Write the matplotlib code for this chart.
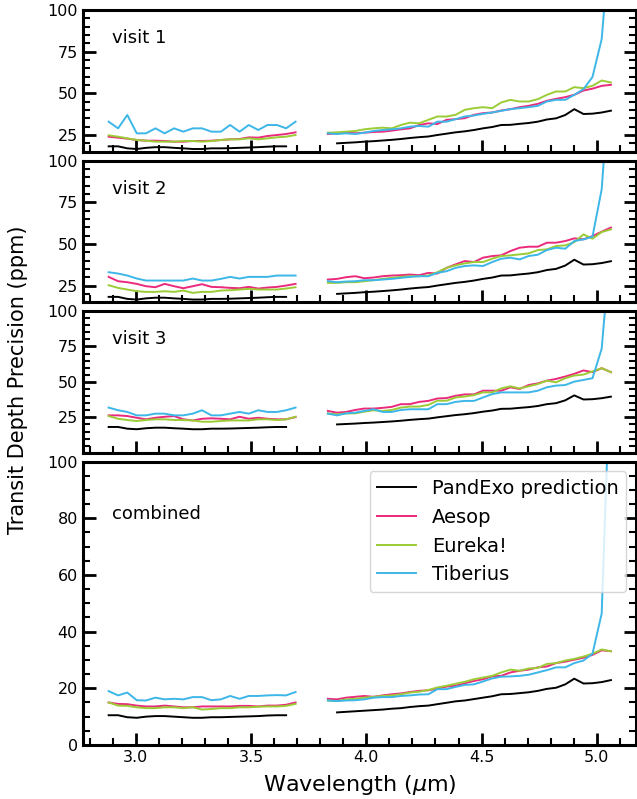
import matplotlib
matplotlib.use("Agg")
import matplotlib.pyplot as plt
from matplotlib.ticker import MultipleLocator

# wavelength grids (micron)
wl_nrs1 = [2.882, 2.923, 2.963, 3.004, 3.044, 3.085, 3.125, 3.166, 3.206, 3.247, 3.287,
           3.328, 3.369, 3.409, 3.450, 3.490, 3.531, 3.571, 3.612, 3.652, 3.693]
wl_nrs2 = [3.833, 3.873, 3.912, 3.952, 3.991, 4.031, 4.071, 4.110, 4.150, 4.189, 4.229,
           4.269, 4.308, 4.348, 4.387, 4.427, 4.467, 4.506, 4.546, 4.585, 4.625, 4.665,
           4.704, 4.744, 4.783, 4.823, 4.863, 4.902, 4.942, 4.981, 5.021, 5.061]
wl_pe_nrs1 = wl_nrs1[:20]
wl_pe_nrs2 = wl_nrs2[1:]

# PandExo prediction (single visit and combined)
pandexo_visit_nrs1 = [18.2, 18.2, 17.0, 16.6, 17.3, 17.7, 17.7, 17.3, 17.0, 16.6, 16.6, 17.0,
                      17.0, 17.1, 17.3, 17.5, 17.7, 18.0, 18.2, 18.2]
pandexo_visit_nrs2 = [20.0, 20.3, 20.6, 21.0, 21.3, 21.7, 22.1, 22.6, 23.2, 23.7, 24.1, 25.0,
                      25.8, 26.6, 27.2, 28.0, 29.0, 29.8, 31.0, 31.1, 31.7, 32.2, 33.0, 34.3,
                      35.0, 37.0, 40.5, 37.6, 37.8, 38.5, 39.6]
pandexo_comb_nrs1 = [10.5, 10.5, 9.8, 9.6, 10.0, 10.2, 10.2, 10.0, 9.8, 9.6, 9.6, 9.8, 9.8,
                     9.9, 10.0, 10.1, 10.2, 10.4, 10.5, 10.5]
pandexo_comb_nrs2 = [11.5, 11.7, 11.9, 12.1, 12.3, 12.5, 12.8, 13.0, 13.4, 13.7, 13.9, 14.4,
                     14.9, 15.4, 15.7, 16.2, 16.7, 17.2, 17.9, 18.0, 18.3, 18.6, 19.1, 19.8,
                     20.2, 21.4, 23.4, 21.7, 21.8, 22.2, 22.9]

# visit 1
aesop_v1_nrs1 = [24.0, 23.4, 22.8, 22.0, 21.6, 21.6, 21.4, 21.0, 21.0, 21.4, 21.4, 21.6, 22.0,
                 22.4, 22.6, 23.6, 23.4, 24.4, 25.0, 25.6, 26.6]
eureka_v1_nrs1 = [24.8, 24.0, 23.0, 22.0, 21.6, 21.0, 21.0, 21.0, 21.4, 21.4, 21.0, 21.4, 22.0,
                  22.4, 22.4, 23.0, 22.4, 23.0, 23.6, 24.0, 25.0]
tiberius_v1_nrs1 = [33.0, 29.0, 37.0, 26.0, 26.0, 29.0, 26.0, 29.0, 27.0, 29.0, 29.0, 27.0,
                    27.0, 31.0, 27.0, 31.0, 28.0, 31.0, 31.0, 29.0, 33.0]
aesop_v1_nrs2 = [25.6, 26.0, 26.6, 26.0, 26.4, 26.8, 27.0, 27.6, 28.4, 29.0, 31.0, 32.0, 31.6,
                 34.1, 34.5, 35.1, 37.1, 38.1, 38.5, 39.7, 40.5, 41.7, 42.5, 43.7, 45.5, 46.7,
                 47.7, 49.1, 51.7, 52.8, 54.5, 55.1]
eureka_v1_nrs2 = [26.4, 26.6, 27.0, 27.4, 28.4, 29.0, 29.4, 29.0, 31.0, 32.4, 32.0, 34.1, 36.1,
                  36.1, 37.1, 40.1, 41.1, 41.7, 41.1, 44.5, 46.1, 45.1, 45.1, 46.5, 49.1, 51.1,
                  51.1, 53.7, 53.1, 54.5, 57.7, 56.5]
tiberius_v1_nrs2 = [26.0, 25.6, 26.0, 25.6, 26.4, 27.4, 28.0, 28.4, 29.0, 30.0, 30.4, 30.0,
                    33.0, 33.0, 34.5, 36.1, 36.7, 37.7, 38.5, 39.5, 40.5, 41.1, 41.7, 42.5,
                    45.1, 46.1, 46.1, 49.1, 52.5, 59.8, 82.6, 150.0]

# visit 2
aesop_v2_nrs1 = [30.2, 27.6, 27.0, 26.0, 24.6, 24.0, 26.0, 24.6, 23.4, 24.6, 25.8, 24.2, 24.0,
                 23.6, 23.4, 24.2, 23.2, 23.8, 24.2, 25.0, 26.0]
eureka_v2_nrs1 = [25.2, 23.6, 22.6, 21.6, 21.2, 21.2, 21.6, 21.2, 22.0, 20.6, 21.2, 21.2, 22.0,
                  22.2, 22.6, 23.0, 22.6, 22.6, 22.6, 23.2, 24.0]
tiberius_v2_nrs1 = [33.0, 32.2, 31.0, 29.2, 28.0, 28.0, 28.0, 28.0, 28.0, 29.2, 28.0, 28.0,
                    29.0, 30.2, 29.2, 30.2, 30.2, 30.2, 31.0, 31.0, 31.0]
aesop_v2_nrs2 = [28.6, 29.0, 30.0, 30.6, 29.4, 29.8, 30.6, 31.0, 31.2, 31.6, 31.2, 32.6, 32.2,
                 35.6, 37.7, 39.7, 39.1, 41.7, 42.7, 43.1, 45.7, 47.7, 48.3, 48.3, 50.7, 50.7,
                 51.7, 53.3, 52.7, 54.7, 57.3, 59.8]
eureka_v2_nrs2 = [26.6, 26.6, 27.0, 27.0, 27.6, 28.2, 29.0, 29.6, 30.2, 30.6, 30.6, 31.0, 33.0,
                  35.6, 37.1, 38.3, 39.1, 39.1, 41.1, 42.7, 43.1, 43.7, 44.3, 46.3, 46.7, 48.7,
                  49.1, 51.0, 55.7, 53.1, 57.1, 58.7]
tiberius_v2_nrs2 = [27.6, 27.0, 27.4, 27.6, 28.2, 28.2, 28.6, 29.0, 29.6, 30.2, 30.6, 30.6,
                    32.6, 33.6, 35.6, 36.7, 37.1, 36.7, 39.1, 41.1, 41.7, 40.7, 42.7, 43.5,
                    46.3, 47.7, 47.1, 51.7, 52.7, 54.3, 82.8, 160.0]

# visit 3
aesop_v3_nrs1 = [26.4, 26.4, 25.9, 24.7, 23.6, 24.7, 25.4, 25.9, 23.6, 22.8, 24.0, 24.3, 24.0,
                 23.6, 25.4, 24.0, 24.7, 24.0, 23.6, 23.6, 25.2]
eureka_v3_nrs1 = [25.9, 24.0, 23.1, 22.4, 23.1, 23.6, 23.6, 23.1, 23.1, 22.8, 21.9, 21.9, 22.4,
                  22.8, 22.8, 22.8, 23.6, 23.6, 23.1, 23.6, 25.4]
tiberius_v3_nrs1 = [31.9, 30.0, 28.8, 26.4, 26.4, 27.6, 27.6, 26.4, 26.4, 27.6, 30.0, 26.4,
                    26.4, 27.6, 28.8, 27.6, 30.0, 28.8, 28.8, 30.0, 31.9]
aesop_v3_nrs2 = [29.5, 28.3, 28.8, 30.2, 31.2, 31.2, 31.7, 32.4, 34.3, 34.3, 35.9, 36.6, 38.3,
                 38.6, 40.2, 41.2, 41.2, 43.8, 43.8, 43.8, 46.2, 45.0, 47.8, 49.0, 50.9, 52.1,
                 53.8, 55.7, 58.1, 56.9, 59.7, 56.9]
eureka_v3_nrs2 = [27.8, 27.1, 27.8, 27.8, 29.0, 30.0, 29.5, 30.2, 31.9, 32.6, 32.6, 33.8, 36.7,
                  36.7, 39.0, 39.7, 40.7, 42.6, 42.6, 45.4, 46.9, 45.4, 46.9, 48.5, 50.9, 49.7,
                  52.6, 54.5, 55.2, 57.4, 59.7, 56.9]
tiberius_v3_nrs2 = [27.6, 26.4, 27.8, 28.3, 29.5, 30.7, 28.8, 28.8, 30.2, 30.7, 30.7, 30.7,
                    34.3, 34.3, 35.9, 36.6, 36.6, 39.0, 41.4, 42.6, 42.6, 42.6, 42.6, 43.8,
                    46.2, 47.4, 47.8, 50.2, 51.4, 52.6, 73.5, 150.0]

# combined
aesop_comb_nrs1 = [15.0, 14.5, 14.4, 13.9, 13.6, 13.6, 13.9, 13.6, 13.3, 13.3, 13.6, 13.6, 13.6,
                   13.6, 13.8, 13.8, 13.6, 13.9, 13.9, 14.2, 15.0]
eureka_comb_nrs1 = [15.0, 13.9, 13.8, 13.3, 13.0, 13.0, 13.3, 13.3, 13.0, 13.3, 12.5, 12.7, 13.0,
                    13.0, 13.3, 13.3, 13.5, 13.6, 13.6, 13.8, 14.5]
tiberius_comb_nrs1 = [19.0, 17.5, 18.5, 15.8, 15.7, 16.7, 16.1, 16.3, 16.1, 16.9, 16.9, 15.8,
                      16.1, 17.3, 16.3, 17.3, 17.3, 17.5, 17.6, 17.5, 18.7]
aesop_comb_nrs2 = [16.3, 16.1, 16.7, 17.0, 17.3, 17.0, 17.5, 17.9, 18.2, 18.7, 19.1, 19.3, 19.9,
                   20.6, 20.9, 21.8, 22.6, 23.2, 24.2, 24.4, 25.6, 26.2, 26.6, 27.4, 27.7, 28.9,
                   29.4, 30.1, 30.8, 31.8, 33.4, 33.1]
eureka_comb_nrs2 = [15.7, 15.5, 16.1, 16.3, 16.7, 17.0, 17.3, 17.5, 17.9, 18.5, 18.8, 19.4, 20.3,
                    20.9, 21.6, 22.3, 23.2, 23.8, 24.4, 25.6, 26.6, 26.2, 27.0, 27.2, 28.6, 28.9,
                    29.8, 30.4, 31.2, 32.2, 33.7, 33.1]
tiberius_comb_nrs2 = [15.7, 15.5, 15.7, 15.8, 16.1, 16.7, 16.9, 16.9, 17.3, 17.5, 17.8, 17.9,
                      19.7, 19.7, 20.5, 21.2, 21.4, 22.4, 23.5, 24.1, 24.2, 24.4, 24.8, 25.6,
                      26.4, 27.4, 27.4, 28.9, 29.8, 32.2, 46.4, 140.0]

panel_names = ["visit 1", "visit 2", "visit 3", "combined"]
c_pe, c_aesop, c_eureka, c_tib = "black", "#ea2a7c", "#9ccc35", "#3db6e8"

panels = [
    (pandexo_visit_nrs1, pandexo_visit_nrs2, aesop_v1_nrs1, aesop_v1_nrs2,
     eureka_v1_nrs1, eureka_v1_nrs2, tiberius_v1_nrs1, tiberius_v1_nrs2),
    (pandexo_visit_nrs1, pandexo_visit_nrs2, aesop_v2_nrs1, aesop_v2_nrs2,
     eureka_v2_nrs1, eureka_v2_nrs2, tiberius_v2_nrs1, tiberius_v2_nrs2),
    (pandexo_visit_nrs1, pandexo_visit_nrs2, aesop_v3_nrs1, aesop_v3_nrs2,
     eureka_v3_nrs1, eureka_v3_nrs2, tiberius_v3_nrs1, tiberius_v3_nrs2),
    (pandexo_comb_nrs1, pandexo_comb_nrs2, aesop_comb_nrs1, aesop_comb_nrs2,
     eureka_comb_nrs1, eureka_comb_nrs2, tiberius_comb_nrs1, tiberius_comb_nrs2),
]

fig = plt.figure(figsize=(6.37, 7.99), dpi=100)
gs = fig.add_gridspec(4, 1, height_ratios=[1, 1, 1, 2], hspace=0.05,
                      left=0.130, right=0.9985, top=0.9875, bottom=0.0676)
axes = []
for i in range(4):
    ax = fig.add_subplot(gs[i], sharex=axes[0] if axes else None)
    axes.append(ax)

lw = 1.4
for i, (ax, data) in enumerate(zip(axes, panels)):
    pe1, pe2, a1, a2, e1, e2, t1, t2 = data
    ax.plot(wl_pe_nrs1, pe1, color=c_pe, lw=lw, label="PandExo prediction")
    ax.plot(wl_pe_nrs2, pe2, color=c_pe, lw=lw)
    ax.plot(wl_nrs1, a1, color=c_aesop, lw=lw, label="Aesop")
    ax.plot(wl_nrs2, a2, color=c_aesop, lw=lw)
    ax.plot(wl_nrs1, e1, color=c_eureka, lw=lw, label="Eureka!")
    ax.plot(wl_nrs2, e2, color=c_eureka, lw=lw)
    ax.plot(wl_nrs1, t1, color=c_tib, lw=lw, label="Tiberius")
    ax.plot(wl_nrs2, t2, color=c_tib, lw=lw)

    ax.text(0.052, 0.8 if i < 3 else 0.815, panel_names[i], transform=ax.transAxes,
            fontsize=13, va="center", ha="left")

    for s in ax.spines.values():
        s.set_linewidth(2.2)
    ax.tick_params(which="major", direction="in", length=9, width=2, right=True,
                   labelsize=11.5)
    ax.tick_params(which="minor", direction="in", length=5, width=1.5, right=True)
    ax.xaxis.set_major_locator(MultipleLocator(0.5))
    ax.xaxis.set_minor_locator(MultipleLocator(0.1))
    ax.yaxis.set_minor_locator(MultipleLocator(5))
    if i < 3:
        ax.set_yticks([25, 50, 75, 100])
        ax.set_ylim(15 if i < 2 else 0, 100)
        ax.tick_params(labelbottom=False)
    else:
        ax.set_yticks([0, 20, 40, 60, 80, 100])
        ax.set_ylim(0, 100)

axes[0].set_xlim(2.77, 5.17)
axes[3].legend(loc="upper right", fontsize=14)
axes[3].set_xlabel(r"Wavelength ($\mu$m)", fontsize=16, labelpad=6)
fig.text(0.028, 0.525, "Transit Depth Precision (ppm)", rotation=90,
         fontsize=15, va="center", ha="center")

fig.savefig("out.png", dpi=100)
